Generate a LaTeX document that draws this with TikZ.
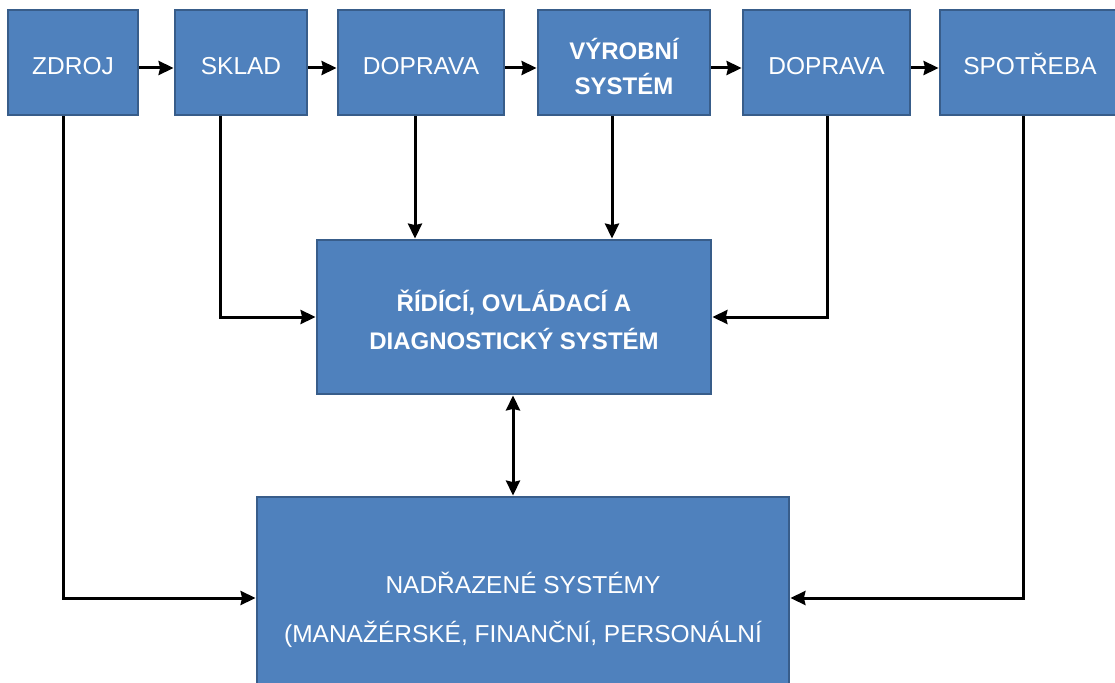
\documentclass[tikz,border=0pt]{standalone}
\usepackage{fontspec}
\setmainfont{Liberation Sans}
\usetikzlibrary{arrows.meta}
\definecolor{boxfill}{RGB}{79,129,189}
\definecolor{boxline}{RGB}{56,93,138}
\tikzset{
  block/.style={draw=boxline, line width=2.8pt, fill=boxfill, text=white,
    inner sep=0pt, align=center, font=\fontsize{24.5}{35}\selectfont},
  blockbold/.style={block, font=\fontsize{24}{38}\selectfont\bfseries},
  lowered/.style={text height=24pt, text depth=0pt},
  tip/.tip={Stealth[length=15pt,width=14pt,inset=1.5pt]},
  arr/.style={line width=3pt, -tip},
  darr/.style={line width=3pt, tip-tip}
}
\begin{document}
\begin{tikzpicture}[x=1pt,y=-1pt]
\useasboundingbox (0,0) rectangle (1115,682);
\fill[white] (0,0) rectangle (1115,682);
\begin{scope}
\clip (0,0) rectangle (1115,682);
% top row of blocks
\node[block, lowered, minimum width=130pt, minimum height=105pt] (zdroj) at (73,62.5) {ZDROJ};
\node[block, lowered, minimum width=132pt, minimum height=105pt] (sklad) at (241,62.5) {SKLAD};
\node[block, lowered, minimum width=166pt, minimum height=105pt] (dop1) at (421,62.5) {DOPRAVA};
\node[blockbold, minimum width=172pt, minimum height=105pt, font=\fontsize{24}{35}\selectfont\bfseries] (vyr) at (624,62.5) {\rule{0pt}{30pt}VÝROBNÍ\\SYSTÉM};
\node[block, lowered, minimum width=167pt, minimum height=105pt] (dop2) at (826.5,62.5) {DOPRAVA};
\node[block, lowered, minimum width=180pt, minimum height=105pt] (spot) at (1030,62.5) {SPOTŘEBA};
% control system
\node[blockbold, minimum width=394pt, minimum height=154pt] (rid) at (514,317) {\rule{0pt}{27pt}ŘÍDÍCÍ, OVLÁDACÍ A\\DIAGNOSTICKÝ SYSTÉM};
% superior systems
\node[block, minimum width=532pt, minimum height=226pt, font=\fontsize{24.5}{49}\selectfont] (nadr) at (523,610) {NADŘAZENÉ SYSTÉMY\\(MANAŽÉRSKÉ, FINANČNÍ, PERSONÁLNÍ};
\end{scope}
% material flow
\draw[arr] (zdroj.east |- 0,68) -- (sklad.west |- 0,68);
\draw[arr] (sklad.east |- 0,68) -- (dop1.west |- 0,68);
\draw[arr] (dop1.east |- 0,68) -- (vyr.west |- 0,68);
\draw[arr] (vyr.east |- 0,68) -- (dop2.west |- 0,68);
\draw[arr] (dop2.east |- 0,68) -- (spot.west |- 0,68);
% signals to the control system
\draw[arr] (sklad.south -| 220,0) |- (rid.west |- 0,317);
\draw[arr] (dop1.south -| 415,0) -- (rid.north -| 415,0);
\draw[arr] (vyr.south -| 612,0) -- (rid.north -| 612,0);
\draw[arr] (dop2.south -| 827,0) |- (rid.east |- 0,317);
% signals to the superior systems
\draw[arr] (zdroj.south -| 63,0) |- (nadr.west |- 0,598);
\draw[arr] (spot.south -| 1023,0) |- (nadr.east |- 0,598);
\draw[darr] (rid.south -| 513,0) -- (nadr.north -| 513,0);
\end{tikzpicture}
\end{document}
